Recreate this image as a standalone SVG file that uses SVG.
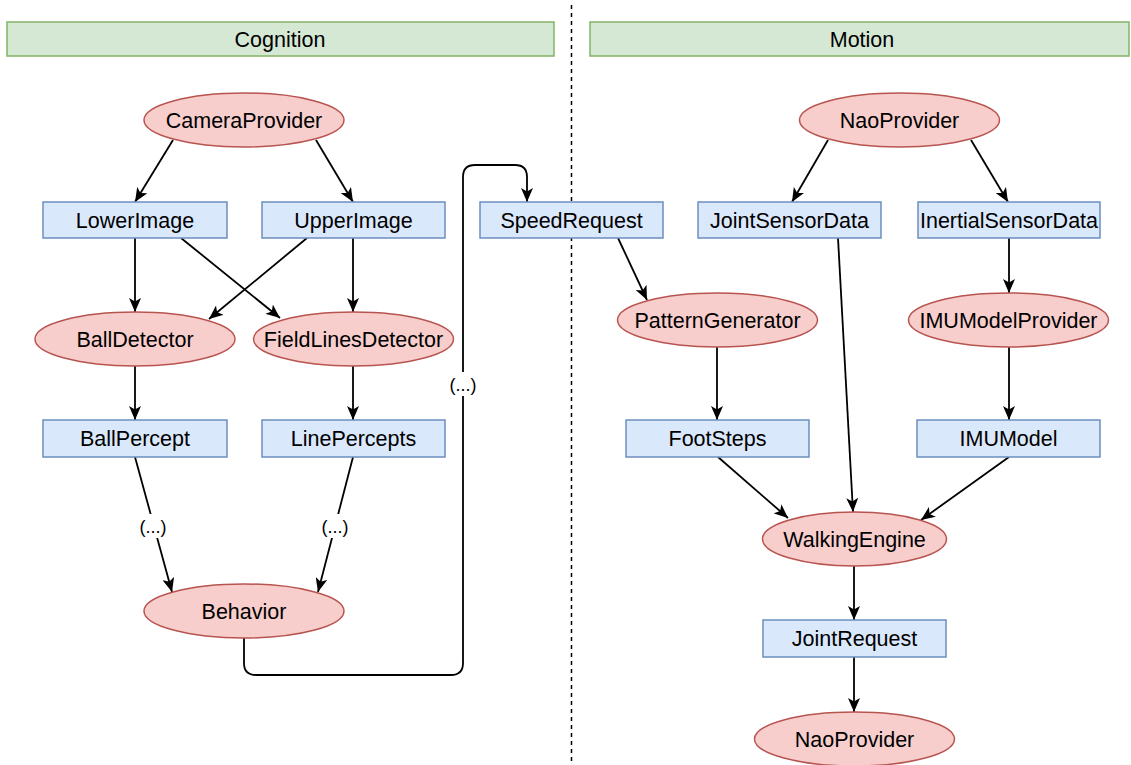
<svg xmlns="http://www.w3.org/2000/svg" width="1131" height="765" viewBox="0 0 1131 765">
<style>
  text { font-family: "Liberation Sans", Arial, Helvetica, sans-serif; font-size: 21.5px; fill: #000; text-anchor: middle; }
  .lbl { font-size: 18px; }
  .bar { fill: #D5E8D4; stroke: #82B366; stroke-width: 1.5; }
  .data { fill: #DAE8FC; stroke: #6C8EBF; stroke-width: 1.5; }
  .mod { fill: #F8CECC; stroke: #B85450; stroke-width: 1.5; }
  .edge { fill: none; stroke: #000; stroke-width: 1.8; marker-end: url(#arr); }
  .sep { stroke: #000; stroke-width: 1.5; stroke-dasharray: 4 4; }
</style>
<defs>
  <marker id="arr" viewBox="0 0 14 12" refX="14" refY="6" markerWidth="14" markerHeight="12" markerUnits="userSpaceOnUse" orient="auto">
    <path d="M0,0 L14,6 L0,12 L3.5,6 Z" fill="#000"/>
  </marker>
</defs>
<rect width="1131" height="765" fill="#fff"/>
<line class="sep" x1="571.5" y1="5" x2="571.5" y2="765"/>
<g id="cognition"><rect class="bar" x="7" y="22" width="547" height="34"/><text x="280" y="46.5">Cognition</text></g>
<g id="motion"><rect class="bar" x="590" y="22" width="539" height="34"/><text x="862" y="46.5">Motion</text></g>

<g id="connectors">
  <path class="edge" d="M173,140 L135,202"/>
  <path class="edge" d="M316,140 L353,202"/>
  <path class="edge" d="M135,238 L135,312"/>
  <path class="edge" d="M181,238 L280,318"/>
  <path class="edge" d="M307,238 L209,319"/>
  <path class="edge" d="M353,238 L353,312"/>
  <path class="edge" d="M135,366 L135,420"/>
  <path class="edge" d="M353,366 L353,420"/>
  <path class="edge" d="M135,457 L172,592"/>
  <path class="edge" d="M353,457 L318,592"/>
  <path class="edge" d="M244,638 L244,663 Q244,675 256,675 L451,675 Q463,675 463,663 L463,177 Q463,165 475,165 L515,165 Q527,165 527,177 L527,202"/>
  <path class="edge" d="M618,238 L647,300"/>
  <path class="edge" d="M828,140 L792,202"/>
  <path class="edge" d="M971,140 L1008,202"/>
  <path class="edge" d="M1009,238 L1009,293"/>
  <path class="edge" d="M717,347 L717,420"/>
  <path class="edge" d="M1009,347 L1009,420"/>
  <path class="edge" d="M838,238 L853,512"/>
  <path class="edge" d="M718,457 L788,518"/>
  <path class="edge" d="M1009,457 L921,520"/>
  <path class="edge" d="M854,566 L854,620"/>
  <path class="edge" d="M854,657 L854,712"/>
  <rect x="138" y="514" width="30" height="24" fill="#fff"/><text class="lbl" x="153" y="533">(...)</text>
  <rect x="320" y="514" width="30" height="24" fill="#fff"/><text class="lbl" x="335" y="533">(...)</text>
  <rect x="448" y="372" width="30" height="24" fill="#fff"/><text class="lbl" x="463" y="391">(...)</text>
</g>

<g id="CameraProvider"><ellipse class="mod" cx="244" cy="120" rx="100" ry="27"/><text x="244" y="127.5">CameraProvider</text></g>
<g id="LowerImage"><rect class="data" x="43" y="202" width="184" height="36"/><text x="135" y="227.5">LowerImage</text></g>
<g id="UpperImage"><rect class="data" x="262" y="202" width="183" height="36"/><text x="353.5" y="227.5">UpperImage</text></g>
<g id="BallDetector"><ellipse class="mod" cx="135" cy="339" rx="100" ry="27"/><text x="135" y="346.5">BallDetector</text></g>
<g id="FieldLinesDetector"><ellipse class="mod" cx="353.5" cy="339" rx="100" ry="27"/><text x="353.5" y="346.5">FieldLinesDetector</text></g>
<g id="BallPercept"><rect class="data" x="43" y="420" width="184" height="37"/><text x="135" y="446">BallPercept</text></g>
<g id="LinePercepts"><rect class="data" x="262" y="420" width="183" height="37"/><text x="353.5" y="446">LinePercepts</text></g>
<g id="Behavior"><ellipse class="mod" cx="244" cy="611" rx="100" ry="27"/><text x="244" y="618.5">Behavior</text></g>

<g id="SpeedRequest"><rect class="data" x="480" y="202" width="183" height="36"/><text x="571.5" y="227.5">SpeedRequest</text></g>
<g id="NaoProvider"><ellipse class="mod" cx="899.5" cy="120" rx="100" ry="27"/><text x="899.5" y="127.5">NaoProvider</text></g>
<g id="JointSensorData"><rect class="data" x="698" y="202" width="183" height="36"/><text x="789.5" y="227.5">JointSensorData</text></g>
<g id="InertialSensorData"><rect class="data" x="918" y="202" width="182" height="36"/><text x="1009" y="227.5">InertialSensorData</text></g>
<g id="PatternGenerator"><ellipse class="mod" cx="717.5" cy="320" rx="100" ry="27"/><text x="717.5" y="327.5">PatternGenerator</text></g>
<g id="IMUModelProvider"><ellipse class="mod" cx="1008.5" cy="320" rx="100" ry="27"/><text x="1008.5" y="327.5">IMUModelProvider</text></g>
<g id="FootSteps"><rect class="data" x="626" y="420" width="183" height="37"/><text x="717.5" y="446">FootSteps</text></g>
<g id="IMUModel"><rect class="data" x="917" y="420" width="183" height="37"/><text x="1008.5" y="446">IMUModel</text></g>
<g id="WalkingEngine"><ellipse class="mod" cx="854.5" cy="539" rx="92" ry="27"/><text x="854.5" y="546.5">WalkingEngine</text></g>
<g id="JointRequest"><rect class="data" x="763" y="620" width="183" height="37"/><text x="854.5" y="646">JointRequest</text></g>
<g id="NaoProvider2"><ellipse class="mod" cx="854.5" cy="739" rx="100" ry="27"/><text x="854.5" y="746.5">NaoProvider</text></g>
</svg>
